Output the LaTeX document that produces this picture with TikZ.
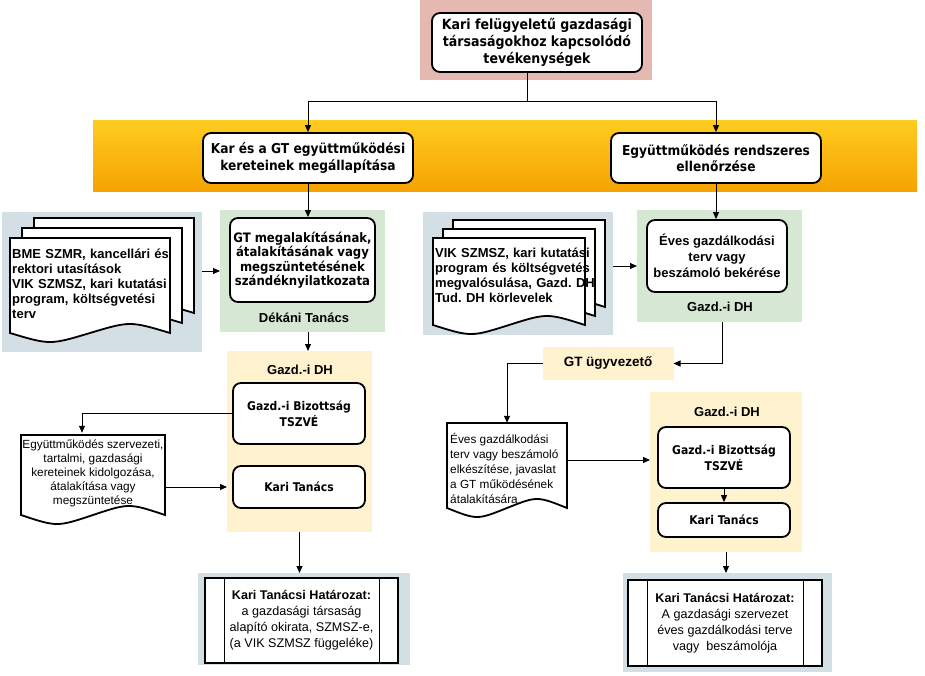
\documentclass[tikz,border=0pt]{standalone}
\usepackage{fontspec}
\setmainfont{Liberation Sans}
\newfontfamily\tahoma{DejaVu Sans Condensed}
\usetikzlibrary{arrows.meta,calc}
\frenchspacing

\definecolor{pinkbg}{RGB}{229,184,177}
\definecolor{bannertop}{RGB}{255,204,32}
\definecolor{bannerbot}{RGB}{245,162,0}
\definecolor{bluebg}{RGB}{211,223,228}
\definecolor{greenbg}{RGB}{214,231,211}
\definecolor{yellowbg}{RGB}{255,242,206}

\begin{document}
\begin{tikzpicture}[
        x=1pt, y=-1pt,
        font=\fontsize{12}{14}\selectfont,
        region/.style={inner sep=0pt, outer sep=0pt},
        rbox/.style={draw=black, line width=1.8pt, rounded corners=8pt, fill=white, align=center, inner sep=2pt},
        tbold/.style={font=\tahoma\bfseries\fontsize{14}{17}\selectfont},
        hbold/.style={font=\bfseries\fontsize{13}{16}\selectfont},
        docbold/.style={font=\bfseries\fontsize{13}{15}\selectfont, align=left, inner sep=0pt},
        docplain/.style={font=\fontsize{11.8}{14}\selectfont, inner sep=0pt},
        resbox/.style={draw=black, line width=1.2pt, fill=white, align=center, inner sep=0pt, font=\fontsize{12.6}{16}\selectfont},
        arr/.style={-{Triangle[length=7pt,width=6pt]}, line width=1pt},
        conn/.style={line width=1pt},
        pics/docsheet/.style 2 args={code={
            \draw[line width=1.8pt, fill=white] (0,0) -- (#1,0) -- (#1,#2)
                .. controls (0.75*#1,#2-12) .. (0.5*#1,#2)
                .. controls (0.25*#1,#2+12) .. (0,#2) -- cycle;
        }},
    ]
    \useasboundingbox (0,0) rectangle (925,676);

    %====================== TOP ======================
    \node[region, fill=pinkbg, minimum width=232pt, minimum height=80pt] (topbg) at (536,40) {};
    \node[rbox, tbold, minimum width=210pt, minimum height=59pt] (top) at (537,42.5)
        {Kari felügyeletű gazdasági\\társaságokhoz kapcsolódó\\tevékenységek};

    %====================== BANNER ======================
    \node[region, top color=bannertop, bottom color=bannerbot, minimum width=824pt, minimum height=71pt] (banner) at (505,156.5) {};
    \node[rbox, tbold, font=\tahoma\bfseries\fontsize{13.6}{16.5}\selectfont, minimum width=210pt, minimum height=50pt] (kar) at (308,158)
        {Kar és a GT együttműködési\\kereteinek megállapítása};
    \node[rbox, tbold, font=\tahoma\bfseries\fontsize{13.6}{16.5}\selectfont, minimum width=210pt, minimum height=50pt] (ell) at (716,158)
        {Együttműködés rendszeres\\ellenőrzése};

    \coordinate (split) at (527,102);
    \draw[conn] (top.south -| split) -- (split);
    \draw[arr] (split) -| (kar.north);
    \draw[arr] (split) -| (ell.north);

    %====================== LEFT: megállapítás ======================
    \node[region, fill=bluebg, minimum width=200pt, minimum height=140pt] (ldocsbg) at (102,282) {};
    \foreach \dx/\dy in {24/-20, 12/-10, 0/0}
        \pic at (10+\dx,238+\dy) {docsheet={160}{95}};
    \node[docbold, anchor=north west, text width=170pt] (ldocs) at (12,249)
        {BME SZMR, kancellári és\\rektori utasítások\\VIK SZMSZ, kari kutatási\\program, költségvetési\\terv};

    \node[region, fill=greenbg, minimum width=165pt, minimum height=122pt] (lgreen) at (302.5,271) {};
    \node[rbox, tbold, font=\tahoma\bfseries\fontsize{13}{14.5}\selectfont, minimum width=145pt, minimum height=84pt] (lgt) at (302.5,260)
        {GT megalakításának,\\átalakításának vagy\\megszüntetésének\\szándéknyilatkozata};
    \node[hbold] (ldek) at (304,318) {Dékáni Tanács};

    \draw[arr] (kar.south) -- (kar.south |- lgt.north);
    \draw[arr] (ldocsbg.east |- lgreen.west) -- (lgreen.west);

    \node[region, fill=yellowbg, minimum width=145pt, minimum height=181pt] (lyellow) at (299.5,441.5) {};
    \node[hbold] (lgazd) at (300,370) {Gazd.-i DH};
    \node[rbox, tbold, font=\tahoma\bfseries\fontsize{12}{16}\selectfont, minimum width=132pt, minimum height=61pt] (lbiz) at (299,413.5)
        {Gazd.-i Bizottság\\TSZVÉ};
    \node[rbox, tbold, font=\tahoma\bfseries\fontsize{12}{16}\selectfont, minimum width=132pt, minimum height=42pt] (lkari) at (299,487)
        {Kari Tanács};

    \draw[arr] (lgreen.south -| kar) -- (lyellow.north -| kar);

    \pic at (21,435) {docsheet={144}{80}};
    \node[docplain, align=center, minimum width=144pt, minimum height=80pt] (ldoc) at (93,473)
        {Együttműködés szervezeti,\\tartalmi, gazdasági\\kereteinek kidolgozása,\\átalakítása vagy\\megszüntetése};

    \draw[arr] (lbiz.west) -| ($(ldoc.north)+(-11,0)$);
    \draw[arr] (ldoc.east |- lkari) -- (lyellow.west |- lkari);

    \node[region, fill=bluebg, minimum width=212pt, minimum height=92pt] (lresbg) at (304,619) {};
    \node[resbox, minimum width=193pt, minimum height=85pt] (lres) at (301.5,620.5)
        {\textbf{Kari Tanácsi Határozat:}\\a gazdasági társaság\\alapító okirata, SZMSZ-e,\\(a VIK SZMSZ függeléke)};
    \draw[line width=1.2pt] ([xshift=20pt]lres.north west) -- ([xshift=20pt]lres.south west)
        ([xshift=-19pt]lres.north east) -- ([xshift=-19pt]lres.south east);

    \draw[arr] (lyellow.south) -- (lyellow.south |- lresbg.north);

    %====================== RIGHT: ellenőrzés ======================
    \node[region, fill=bluebg, minimum width=190pt, minimum height=123pt] (rdocsbg) at (518,273.5) {};
    \foreach \dx/\dy in {20/-18, 10/-9, 0/0}
        \pic at (433+\dx,238+\dy) {docsheet={152}{87}};
    \node[docbold, anchor=north west, text width=170pt] (rdocs) at (435,248)
        {VIK SZMSZ, kari kutatási\\program és költségvetés\\megvalósulása, Gazd. DH\\Tud. DH körlevelek};

    \node[region, fill=greenbg, minimum width=165pt, minimum height=112pt] (rgreen) at (719.5,266) {};
    \node[rbox, hbold, minimum width=140pt, minimum height=72pt] (rev) at (717,256)
        {Éves gazdálkodási\\terv vagy\\beszámoló bekérése};
    \node[hbold] (rgazd1) at (720,307) {Gazd.-i DH};

    \draw[arr] (ell.south) -- (ell.south |- rev.north);
    \draw[arr] (rdocsbg.east |- rgreen.west) -- (rgreen.west);

    \node[region, fill=yellowbg, hbold, font=\bfseries\fontsize{13.5}{16}\selectfont, minimum width=131pt, minimum height=33pt] (rgt) at (608,363.5) {GT ügyvezető};
    \draw[arr] ([xshift=3pt]rgreen.south) |- (rgt.east);

    \pic at (447,423) {docsheet={120}{85}};
    \node[docplain, minimum width=120pt, minimum height=85pt] (rdoc) at (507,465.5) {};
    \node[docplain, align=left, font=\fontsize{11.8}{15}\selectfont, anchor=north west] (rdoctext) at (450,433)
        {Éves gazdálkodási\\terv vagy beszámoló\\elkészítése, javaslat\\a GT működésének\\átalakítására};
    \draw[arr] (rgt.west) -| (rdoc.north);

    \node[region, fill=yellowbg, minimum width=152pt, minimum height=160pt] (ryellow) at (726,472) {};
    \node[hbold] (rgazd2) at (727,412) {Gazd.-i DH};
    \node[rbox, tbold, font=\tahoma\bfseries\fontsize{12}{16}\selectfont, minimum width=132pt, minimum height=61pt] (rbiz) at (724,457.5)
        {Gazd.-i Bizottság\\TSZVÉ};
    \node[rbox, tbold, font=\tahoma\bfseries\fontsize{12}{16}\selectfont, minimum width=132pt, minimum height=34pt] (rkari) at (724,520)
        {Kari Tanács};
    \draw[arr] (rbiz.south) -- (rkari.north);
    \draw[arr] (rdoc.east |- 0,460) -- (ryellow.west |- 0,460);

    \node[region, fill=bluebg, minimum width=209pt, minimum height=99pt] (rresbg) at (727.5,622.5) {};
    \node[resbox, minimum width=194pt, minimum height=86pt] (rres) at (725,623)
        {\textbf{Kari Tanácsi Határozat:}\\A gazdasági szervezet\\éves gazdálkodási terve\\vagy\ \ beszámolója};
    \draw[line width=1.2pt] ([xshift=20pt]rres.north west) -- ([xshift=20pt]rres.south west)
        ([xshift=-19pt]rres.north east) -- ([xshift=-19pt]rres.south east);

    \draw[arr] (ryellow.south) -- (ryellow.south |- rresbg.north);

\end{tikzpicture}
\end{document}
